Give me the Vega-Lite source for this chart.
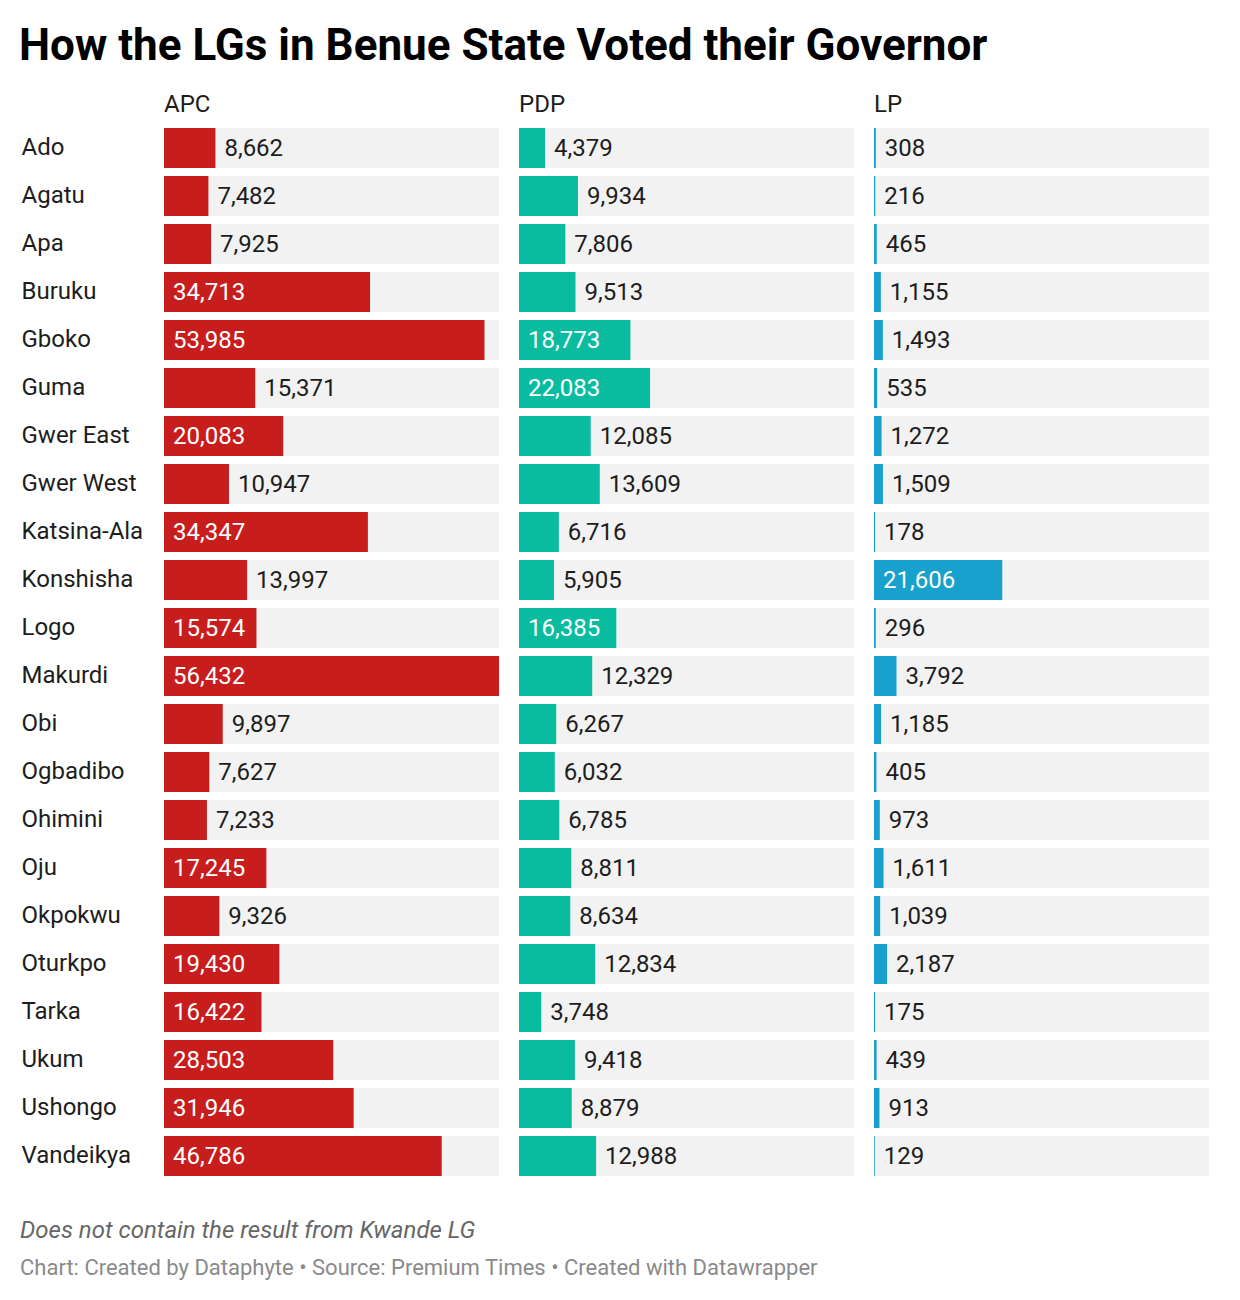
{
  "$schema": "https://vega.github.io/schema/vega-lite/v6.json",
  "background": "white",
  "padding": {"left": 19, "top": 25, "right": 10, "bottom": 10},
  "config": {"font": "Roboto", "view": {"stroke": null}},
  "title": {"text": "How the LGs in Benue State Voted their Governor", "anchor": "start", "frame": "bounds", "fontSize": 44, "fontWeight": 700, "font": "Roboto", "color": "#000000", "offset": 24, "dx": -1},
  "vconcat": [
    {
      "data": {"values": [
        {"lg": "Ado", "party": "APC", "votes": 8662},
        {"lg": "Agatu", "party": "APC", "votes": 7482},
        {"lg": "Apa", "party": "APC", "votes": 7925},
        {"lg": "Buruku", "party": "APC", "votes": 34713},
        {"lg": "Gboko", "party": "APC", "votes": 53985},
        {"lg": "Guma", "party": "APC", "votes": 15371},
        {"lg": "Gwer East", "party": "APC", "votes": 20083},
        {"lg": "Gwer West", "party": "APC", "votes": 10947},
        {"lg": "Katsina-Ala", "party": "APC", "votes": 34347},
        {"lg": "Konshisha", "party": "APC", "votes": 13997},
        {"lg": "Logo", "party": "APC", "votes": 15574},
        {"lg": "Makurdi", "party": "APC", "votes": 56432},
        {"lg": "Obi", "party": "APC", "votes": 9897},
        {"lg": "Ogbadibo", "party": "APC", "votes": 7627},
        {"lg": "Ohimini", "party": "APC", "votes": 7233},
        {"lg": "Oju", "party": "APC", "votes": 17245},
        {"lg": "Okpokwu", "party": "APC", "votes": 9326},
        {"lg": "Oturkpo", "party": "APC", "votes": 19430},
        {"lg": "Tarka", "party": "APC", "votes": 16422},
        {"lg": "Ukum", "party": "APC", "votes": 28503},
        {"lg": "Ushongo", "party": "APC", "votes": 31946},
        {"lg": "Vandeikya", "party": "APC", "votes": 46786},
        {"lg": "Ado", "party": "PDP", "votes": 4379},
        {"lg": "Agatu", "party": "PDP", "votes": 9934},
        {"lg": "Apa", "party": "PDP", "votes": 7806},
        {"lg": "Buruku", "party": "PDP", "votes": 9513},
        {"lg": "Gboko", "party": "PDP", "votes": 18773},
        {"lg": "Guma", "party": "PDP", "votes": 22083},
        {"lg": "Gwer East", "party": "PDP", "votes": 12085},
        {"lg": "Gwer West", "party": "PDP", "votes": 13609},
        {"lg": "Katsina-Ala", "party": "PDP", "votes": 6716},
        {"lg": "Konshisha", "party": "PDP", "votes": 5905},
        {"lg": "Logo", "party": "PDP", "votes": 16385},
        {"lg": "Makurdi", "party": "PDP", "votes": 12329},
        {"lg": "Obi", "party": "PDP", "votes": 6267},
        {"lg": "Ogbadibo", "party": "PDP", "votes": 6032},
        {"lg": "Ohimini", "party": "PDP", "votes": 6785},
        {"lg": "Oju", "party": "PDP", "votes": 8811},
        {"lg": "Okpokwu", "party": "PDP", "votes": 8634},
        {"lg": "Oturkpo", "party": "PDP", "votes": 12834},
        {"lg": "Tarka", "party": "PDP", "votes": 3748},
        {"lg": "Ukum", "party": "PDP", "votes": 9418},
        {"lg": "Ushongo", "party": "PDP", "votes": 8879},
        {"lg": "Vandeikya", "party": "PDP", "votes": 12988},
        {"lg": "Ado", "party": "LP", "votes": 308},
        {"lg": "Agatu", "party": "LP", "votes": 216},
        {"lg": "Apa", "party": "LP", "votes": 465},
        {"lg": "Buruku", "party": "LP", "votes": 1155},
        {"lg": "Gboko", "party": "LP", "votes": 1493},
        {"lg": "Guma", "party": "LP", "votes": 535},
        {"lg": "Gwer East", "party": "LP", "votes": 1272},
        {"lg": "Gwer West", "party": "LP", "votes": 1509},
        {"lg": "Katsina-Ala", "party": "LP", "votes": 178},
        {"lg": "Konshisha", "party": "LP", "votes": 21606},
        {"lg": "Logo", "party": "LP", "votes": 296},
        {"lg": "Makurdi", "party": "LP", "votes": 3792},
        {"lg": "Obi", "party": "LP", "votes": 1185},
        {"lg": "Ogbadibo", "party": "LP", "votes": 405},
        {"lg": "Ohimini", "party": "LP", "votes": 973},
        {"lg": "Oju", "party": "LP", "votes": 1611},
        {"lg": "Okpokwu", "party": "LP", "votes": 1039},
        {"lg": "Oturkpo", "party": "LP", "votes": 2187},
        {"lg": "Tarka", "party": "LP", "votes": 175},
        {"lg": "Ukum", "party": "LP", "votes": 439},
        {"lg": "Ushongo", "party": "LP", "votes": 913},
        {"lg": "Vandeikya", "party": "LP", "votes": 129}
      ]},
      "title": {"text": "Does not contain the result from Kwande LG", "subtitle": "Chart: Created by Dataphyte • Source: Premium Times • Created with Datawrapper", "orient": "bottom", "anchor": "start", "frame": "bounds", "dx": -1, "font": "Roboto", "fontSize": 24, "fontStyle": "italic", "fontWeight": 400, "color": "#666666", "subtitleFont": "Roboto", "subtitleFontSize": 22, "subtitleColor": "#8a8a8a", "subtitlePadding": 15, "offset": 43},
      "facet": {
        "column": {
          "field": "party", "type": "nominal", "sort": ["APC", "PDP", "LP"],
          "header": {"title": null, "labelAnchor": "start", "labelAlign": "left", "labelFont": "Roboto", "labelFontSize": 24, "labelColor": "#1d1d1d", "labelPadding": -8, "labelBaseline": "alphabetic"}
        }
      },
      "spacing": 20,
      "spec": {
        "width": 335,
        "height": {"step": 48},
        "layer": [
          {
            "mark": {"type": "bar", "color": "#f2f2f2"},
            "encoding": {
              "x": {"datum": 56432, "type": "quantitative", "scale": {"domain": [0, 56432], "nice": false, "zero": true}, "axis": null},
              "y": {"field": "lg", "type": "nominal", "sort": null, "scale": {"paddingInner": 0.1667, "paddingOuter": 0},
                "axis": {"title": null, "domain": false, "ticks": false, "tickSize": 0, "labelAlign": "left", "labelPadding": 143, "labelFont": "Roboto", "labelFontSize": 24, "labelColor": "#1d1d1d", "labelLimit": 200}}
            }
          },
          {
            "mark": {"type": "bar"},
            "encoding": {
              "x": {"field": "votes", "type": "quantitative"},
              "y": {"field": "lg", "type": "nominal", "sort": null},
              "color": {"field": "party", "type": "nominal", "scale": {"domain": ["APC", "PDP", "LP"], "range": ["#c71e1d", "#09bc9f", "#18a1cd"]}, "legend": null}
            }
          },
          {
            "transform": [{"filter": "datum.votes >= 15500"}],
            "mark": {"type": "text", "align": "left", "baseline": "middle", "dx": 9, "dy": 1, "fontSize": 24, "font": "Roboto", "color": "#ffffff"},
            "encoding": {
              "x": {"datum": 0, "type": "quantitative"},
              "y": {"field": "lg", "type": "nominal", "sort": null},
              "text": {"field": "votes", "type": "quantitative", "format": ","}
            }
          },
          {
            "transform": [{"filter": "datum.votes < 15500"}],
            "mark": {"type": "text", "align": "left", "baseline": "middle", "dx": 9, "dy": 1, "fontSize": 24, "font": "Roboto", "color": "#1d1d1d"},
            "encoding": {
              "x": {"field": "votes", "type": "quantitative"},
              "y": {"field": "lg", "type": "nominal", "sort": null},
              "text": {"field": "votes", "type": "quantitative", "format": ","}
            }
          }
        ]
      }
    }
  ]
}
